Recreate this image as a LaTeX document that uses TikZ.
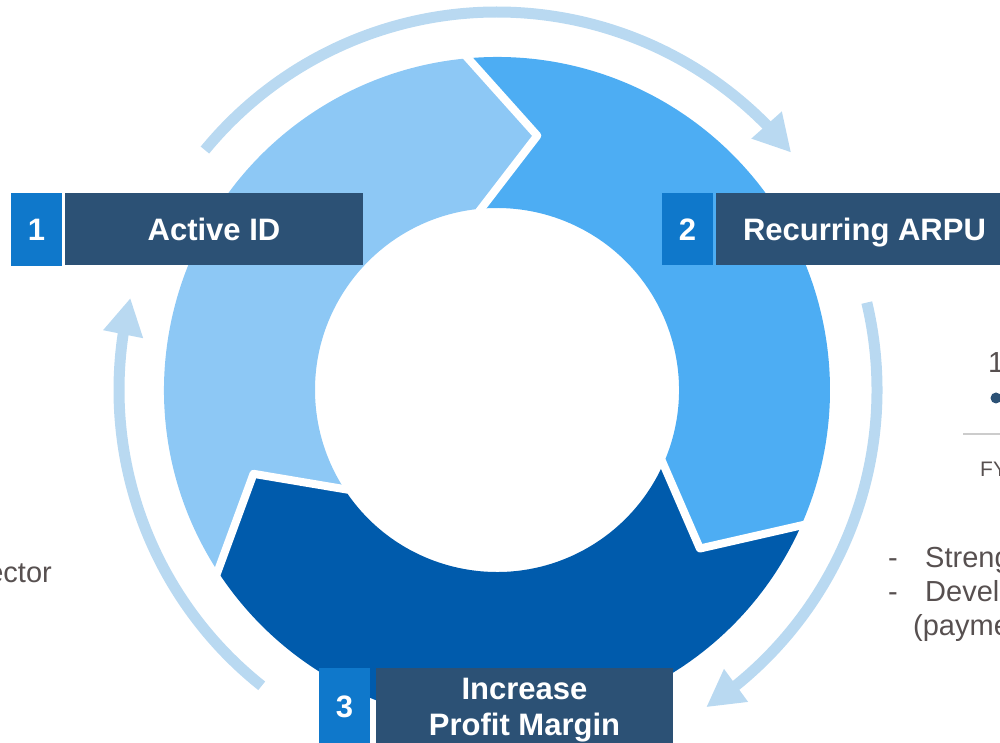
\documentclass[tikz,border=0pt]{standalone}
\usepackage{fontspec}
\setmainfont{Liberation Sans}
\usetikzlibrary{arrows.meta,bending}
\definecolor{segA}{HTML}{8DC8F5}
\definecolor{segB}{HTML}{4DADF3}
\definecolor{segC}{HTML}{005BAC}
\definecolor{arrc}{HTML}{B9D9F1}
\definecolor{labc}{HTML}{2C5175}
\definecolor{numc}{HTML}{0F78CB}
\definecolor{sidec}{RGB}{87,80,80}
\definecolor{rulec}{HTML}{CCCCCC}
\begin{document}
\begin{tikzpicture}[x=1pt,y=1pt,
  cyc/.style={draw=arrc, line width=11pt, -{Triangle[length=37pt,width=38pt,flex]}},
  gap/.style={draw=white, line width=8pt, line join=round, line cap=rect},
  numbox/.style={fill=numc, text=white, inner sep=0pt, minimum width=51pt,
    font=\fontsize{31}{36}\selectfont\bfseries, text height=22.2pt, text depth=0pt},
  labbox/.style={fill=labc, text=white, inner sep=0pt, minimum width=297pt,
    font=\fontsize{31}{36}\selectfont\bfseries, text height=22.2pt, text depth=0pt},
  labtext/.style={text=white, inner sep=0pt,
    font=\fontsize{31}{36}\selectfont\bfseries, text height=22.2pt, text depth=0pt},
  side/.style={text=sidec, inner sep=0pt, font=\fontsize{29}{34}\selectfont}
]
\useasboundingbox (0,0) rectangle (1000,743);
\clip (0,0) rectangle (1000,743);
\begin{scope}[shift={(497,353)}]
  % ring segments
  \fill[segA] (213:333) arc[start angle=213,end angle=95,radius=333]
    -- (81:257.5) -- (95:182) arc[start angle=95,end angle=213,radius=182]
    -- (199:257.5) -- cycle;
  \fill[segB] (95:333) arc[start angle=95,end angle=-24,radius=333]
    -- (-38:257.5) -- (-24:182) arc[start angle=-24,end angle=95,radius=182]
    -- (81:257.5) -- cycle;
  \fill[segC] (-24:333) arc[start angle=-24,end angle=-147,radius=333]
    -- (-161:257.5) -- (-147:182) arc[start angle=-147,end angle=-24,radius=182]
    -- (-38:257.5) -- cycle;
  % white gaps
  \draw[gap] (95:333) -- (81:257.5) -- (95:182);
  \draw[gap] (-24:333) -- (-38:257.5) -- (-24:182);
  \draw[gap] (-147:333) -- (-161:257.5) -- (-147:182);
  % outer cycle arrows
  \draw[cyc] (140.6:378) arc[start angle=140.6,end angle=38.9,radius=378];
  \draw[cyc] (13.3:380) arc[start angle=13.3,end angle=-56.6,radius=380];
  \draw[cyc] (231.5:378) arc[start angle=231.5,end angle=165.9,radius=378];
\end{scope}
% labels
\node[numbox, minimum height=73pt] (n1) at (36.5,513.5) {1};
\node[labbox, minimum height=72pt, minimum width=298pt] (l1) at (214,513.5) {Active ID};
\node[numbox, minimum height=72pt] (n2) at (687.5,513.5) {2};
\node[labbox, minimum height=72pt] (l2) at (864.5,513.5) {Recurring ARPU};
\node[numbox, minimum height=76pt] (n3) at (344.5,37) {3};
\node[labbox, minimum height=76pt] (l3) at (524.5,37) {};
\node[labtext] (l3a) at (524.5,55) {Increase};
\node[labtext] (l3b) at (524.5,19) {Profit Margin};
% side texts (cut by the page edge)
\node[side, anchor=base east] (lt) at (52,160) {ector};
\node[side, anchor=base west] (r1) at (988,370) {1};
\fill[labc] (996,345) circle[radius=5.5];
\draw[rulec, line width=2pt] (963,309) -- (1000,309);
\node[side, anchor=base west, font=\fontsize{21}{25}\selectfont] (fy) at (980,266) {FY};
\node[side, anchor=base west] (d1) at (888,175) {-};
\node[side, anchor=base west] (s1) at (925,175) {Streng};
\node[side, anchor=base west] (d2) at (888,141) {-};
\node[side, anchor=base west] (s2) at (925,141) {Devel};
\node[side, anchor=base west] (s3) at (913,107) {(payme};
\end{tikzpicture}
\end{document}
